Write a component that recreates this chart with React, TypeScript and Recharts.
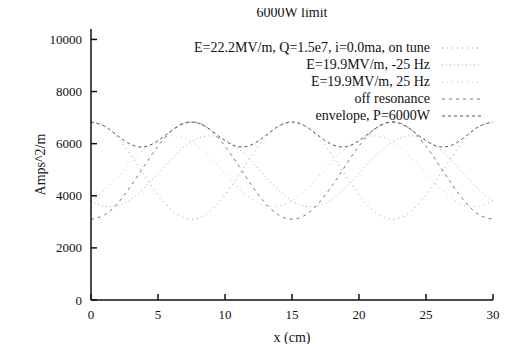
import React from 'react'
import { LineChart, Line, XAxis, YAxis, Legend } from 'recharts'

const xCm = [0, 1, 2, 3, 4, 5, 6, 7, 8, 9, 10, 11, 12, 13, 14, 15, 16, 17, 18, 19, 20, 21, 22, 23, 24, 25, 26, 27, 28, 29, 30]

const onTune = [6840, 6678, 6221, 5548, 4775, 4035, 3457, 3141, 3141, 3457, 4035, 4775, 5548, 6221, 6678, 6840, 6678, 6221, 5548, 4775, 4035, 3457, 3141, 3141, 3457, 4035, 4775, 5548, 6221, 6678, 6840]
const minus25Hz = [3807, 3599, 3623, 3874, 4311, 4855, 5414, 5892, 6205, 6299, 6155, 5807, 5308, 4741, 4211, 3807, 3599, 3623, 3874, 4311, 4855, 5414, 5892, 6205, 6299, 6155, 5807, 5308, 4741, 4211, 3807]
const plus25Hz = [3807, 4211, 4741, 5308, 5807, 6155, 6299, 6205, 5892, 5414, 4855, 4311, 3874, 3623, 3599, 3807, 4211, 4741, 5308, 5807, 6155, 6299, 6205, 5892, 5414, 4855, 4311, 3874, 3623, 3599, 3807]
const offResonance = [3100, 3262, 3719, 4392, 5165, 5905, 6483, 6799, 6799, 6483, 5905, 5165, 4392, 3719, 3262, 3100, 3262, 3719, 4392, 5165, 5905, 6483, 6799, 6799, 6483, 5905, 5165, 4392, 3719, 3262, 3100]
const envelope = [6830, 6671, 6300, 5962, 5881, 6110, 6498, 6788, 6788, 6498, 6110, 5881, 5962, 6300, 6671, 6830, 6671, 6300, 5962, 5881, 6110, 6498, 6788, 6788, 6498, 6110, 5881, 5962, 6300, 6671, 6830]

const xTicks = [0, 5, 10, 15, 20, 25, 30]
const yTicks = [0, 2000, 4000, 6000, 8000, 10000]

const series = [
  { key: 'onTune', name: 'E=22.2MV/m, Q=1.5e7, i=0.0ma, on tune', color: '#999', dash: '1 4' },
  { key: 'minus25Hz', name: 'E=19.9MV/m, -25 Hz', color: '#aaa', dash: '1 3' },
  { key: 'plus25Hz', name: 'E=19.9MV/m, 25 Hz', color: '#bbb', dash: '1 4' },
  { key: 'offResonance', name: 'off resonance', color: '#777', dash: '3 4' },
  { key: 'envelope', name: 'envelope, P=6000W', color: '#555', dash: '3 3' },
]

const data = xCm.map((x, i) => ({
  x,
  onTune: onTune[i],
  minus25Hz: minus25Hz[i],
  plus25Hz: plus25Hz[i],
  offResonance: offResonance[i],
  envelope: envelope[i],
}))

const FONT = "'Liberation Serif', 'Times New Roman', serif"
const tickStyle = { fontSize: 13, fill: '#111', fontFamily: FONT }

function renderLegend() {
  return (
    <div style={{ fontFamily: FONT, fontSize: 14, color: '#111' }}>
      {series.map((s) => (
        <div key={s.key} style={{ display: 'flex', alignItems: 'center', height: 17 }}>
          <span style={{ flex: 1, textAlign: 'right', paddingRight: 12, whiteSpace: 'nowrap' }}>{s.name}</span>
          <svg width={40} height={6}>
            <line x1={0} y1={3} x2={40} y2={3} stroke={s.color} strokeWidth={1} strokeDasharray={s.dash} />
          </svg>
        </div>
      ))}
    </div>
  )
}

export default function App() {
  return (
    <div style={{ position: 'relative', width: 500, height: 336, fontFamily: FONT }}>
      <div
        style={{
          position: 'absolute',
          top: -3,
          left: 83,
          width: 402,
          textAlign: 'center',
          fontSize: 14,
          color: '#111',
        }}
      >
        6000W limit
      </div>
      <LineChart
        width={500}
        height={336}
        data={data}
        margin={{ top: 21, right: 15, left: 0, bottom: 0 }}
        style={{ fontFamily: FONT }}
      >
        <XAxis
          dataKey="x"
          type="number"
          domain={[0, 30]}
          ticks={xTicks}
          tickSize={-6}
          tickMargin={16}
          tick={tickStyle}
          height={44}
          stroke="#111"
          strokeWidth={1.5}
          fontFamily={FONT}
          label={{ value: 'x (cm)', position: 'insideBottom', offset: 2, fontFamily: FONT, fontSize: 14, fill: '#111' }}
        />
        <XAxis
          xAxisId="top"
          orientation="top"
          dataKey="x"
          type="number"
          domain={[0, 30]}
          ticks={xTicks}
          tickSize={-6}
          tick={() => null}
          height={0}
          stroke="#111"
        />
        <YAxis
          type="number"
          domain={[0, 10400]}
          ticks={yTicks}
          tickSize={-6}
          tickMargin={15}
          tick={tickStyle}
          width={83}
          stroke="#111"
          strokeWidth={1.5}
          fontFamily={FONT}
          label={{ value: 'Amps^2/m', angle: -90, position: 'center', dx: -9, fontFamily: FONT, fontSize: 14, fill: '#111' }}
        />
        <YAxis
          yAxisId="right"
          orientation="right"
          type="number"
          domain={[0, 10400]}
          ticks={yTicks}
          tickSize={-6}
          tick={() => null}
          width={0}
          stroke="#111"
          strokeWidth={1.5}
        />
        <Legend
          layout="vertical"
          align="center"
          verticalAlign="middle"
          content={renderLegend}
          wrapperStyle={{ top: 31, left: 144, width: 330 }}
        />
        {series.map((s) => (
          <Line
            key={s.key}
            type="natural"
            dataKey={s.key}
            name={s.name}
            stroke={s.color}
            strokeWidth={1}
            strokeDasharray={s.dash}
            dot={false}
            isAnimationActive={false}
          />
        ))}
      </LineChart>
    </div>
  )
}
